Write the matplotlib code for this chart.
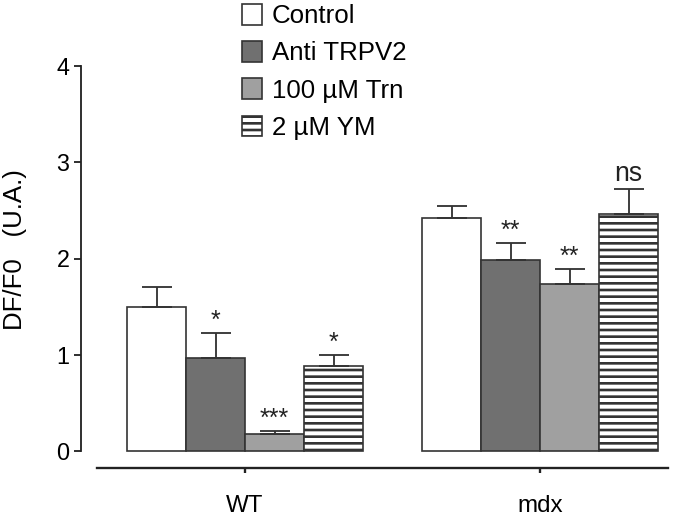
import matplotlib
matplotlib.use('Agg')
import matplotlib.pyplot as plt
import numpy as np

# data
groups = ['WT', 'mdx']
conditions = ['Control', 'Anti TRPV2', '100 µM Trn', '2 µM YM']
means = {
    'Control':    [1.50, 2.42],
    'Anti TRPV2': [0.97, 1.98],
    '100 µM Trn': [0.18, 1.74],
    '2 µM YM':    [0.88, 2.46],
}
errors = {
    'Control':    [0.20, 0.13],
    'Anti TRPV2': [0.26, 0.18],
    '100 µM Trn': [0.03, 0.15],
    '2 µM YM':    [0.12, 0.26],
}
signif = {
    'Control':    ['', ''],
    'Anti TRPV2': ['*', '**'],
    '100 µM Trn': ['***', '**'],
    '2 µM YM':    ['*', 'ns'],
}

fills = {'Control': 'white', 'Anti TRPV2': '#707070', '100 µM Trn': '#a0a0a0', '2 µM YM': 'white'}
hatches = {'Control': None, 'Anti TRPV2': None, '100 µM Trn': None, '2 µM YM': '---'}

plt.rcParams['font.family'] = ['Liberation Sans', 'DejaVu Sans']
plt.rcParams['hatch.linewidth'] = 1.6
plt.rcParams['hatch.color'] = '#222222'

dpi = 120
fig = plt.figure(figsize=(688 / dpi, 521 / dpi), dpi=dpi)
ax = fig.add_axes([81 / 688, 1 - 468 / 521, (668 - 81) / 688, (468 - 66) / 521])

edge = '#333333'
w = 0.2
x = np.arange(len(groups))
for i, c in enumerate(conditions):
    pos = x + (i - 1.5) * w
    ax.bar(pos, means[c], w, color=fills[c], edgecolor=edge, linewidth=1.0,
           hatch=hatches[c], label=c, zorder=2)
    ax.errorbar(pos, means[c], yerr=[np.zeros(len(groups)), errors[c]], fmt='none',
                ecolor=edge, elinewidth=1.1, capsize=9, capthick=1.1, zorder=3)
    for j in range(len(groups)):
        s = signif[c][j]
        if s:
            top = means[c][j] + errors[c][j]
            fs = 15 if s != 'ns' else 16
            off = 0.0 if s != 'ns' else 0.02
            ax.text(pos[j], top + off, s, ha='center', va='bottom', fontsize=fs,
                    color='#222222')

ax.set_xlim((81 - 245) / 295, (668 - 245) / 295)
ax.set_ylim(-(468 - 451) / 96.25, (451 - 66) / 96.25)

ax.spines['top'].set_visible(False)
ax.spines['right'].set_visible(False)
ax.spines['left'].set_bounds(0, 4)
ax.spines['bottom'].set_bounds((97 - 245) / 295, (668 - 245) / 295)
ax.spines['left'].set_color('#222222')
ax.spines['bottom'].set_color('#222222')
ax.spines['left'].set_linewidth(1.1)
ax.spines['bottom'].set_linewidth(1.4)

ax.set_yticks([0, 1, 2, 3, 4])
ax.set_xticks(x)
ax.set_xticklabels(groups)
ax.tick_params(axis='y', length=4, width=1.1, labelsize=14, pad=3, color='#222222')
ax.tick_params(axis='x', length=3, width=1.4, labelsize=14.5, pad=13, color='#222222')
ax.set_ylabel('DF/F0   (U.A.)', fontsize=15.5)
ax.yaxis.set_label_coords((27 - 81) / 587, (468 - 250) / 402)

fig.legend(loc='upper left', bbox_to_anchor=(232 / 688, 1.012), frameon=False,
           fontsize=15.5, handlelength=0.75, handleheight=0.85,
           labelspacing=0.5, handletextpad=0.4, borderaxespad=0.0)

fig.savefig('out.png', dpi=dpi)
